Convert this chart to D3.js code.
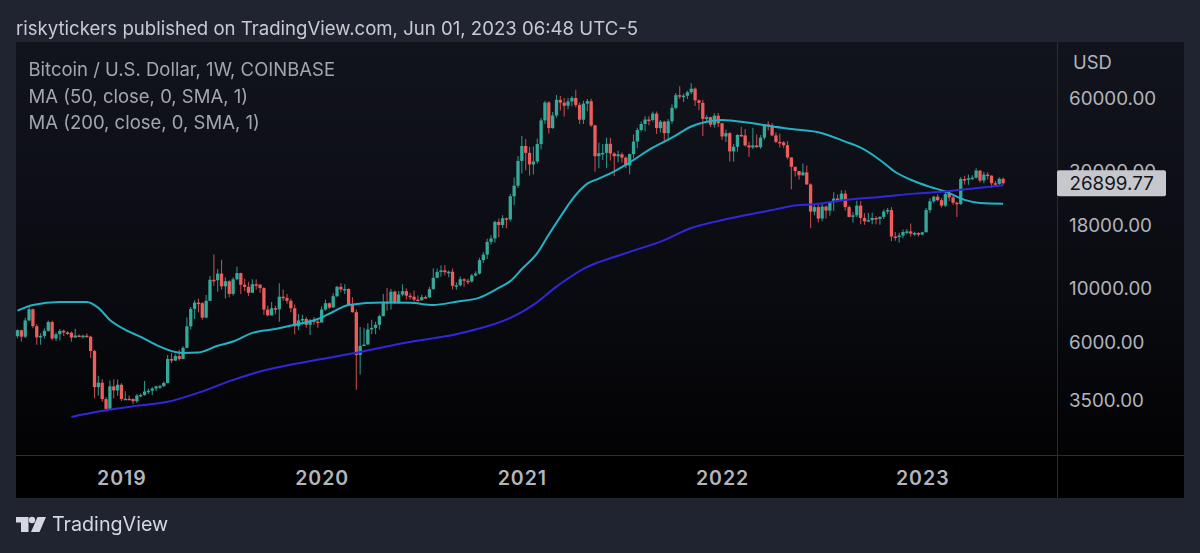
<!DOCTYPE html>
<html>
<head>
<meta charset="utf-8">
<title>BTCUSD weekly</title>
<script src="https://cdn.jsdelivr.net/npm/d3@7"></script>
<style>
  html, body { margin: 0; padding: 0; background: #1f2430; }
  svg { display: block; font-family: Inter, "Noto Sans", sans-serif; }
</style>
</head>
<body>
<svg id="chart" width="1200" height="553"></svg>
<script>
// weekly candles, first one is the week of 2018-07-02. each open is the close before it
const firstWeek = "2018-07-02";
const firstOpen = 6380;
const closes = [
  6750,6350,7400,8220,7010,6310,6400,6710,7290,6240,
  6500,6710,6610,6590,6300,6420,6400,6410,6350,5550,
  3950,4120,3530,3220,3980,3830,4040,3530,3540,3530,
  3460,3650,3670,3790,3820,3900,3980,3990,4110,5150,
  5070,5290,5150,5720,7000,8250,8750,8700,7600,8900,
  10850,10800,11500,10200,10700,9500,10900,11550,10350,10150,
  9600,10400,10370,10030,8200,7760,8300,8220,9250,9150,
  8900,8300,7000,7400,7500,7100,7400,7320,7250,8200,
  8700,8350,9300,10150,9900,9950,8550,8000,5350,5830,
  5900,6800,6900,7100,7700,8800,8700,9700,8700,9440,
  9750,9340,9250,9000,8950,9220,9200,9930,11050,11680,
  11850,11650,11700,10250,10300,10900,10750,10680,11300,11500,
  13050,13750,15500,16000,18700,18150,19350,19150,23800,26300,
  33200,38200,35800,32100,33000,38900,48600,57500,45200,50900,
  59000,57400,55800,58100,60000,56200,48900,56900,58200,46400,
  34700,35700,35800,39000,35600,34700,35300,34250,31800,35400,
  39800,44400,47000,49000,48800,51800,45200,48000,43100,48200,
  54700,61600,60900,61300,63300,65500,58700,57300,49300,50100,
  46700,50800,47300,41800,43100,36300,37900,42400,42200,38400,
  37700,38400,37800,41300,46800,46400,42200,39700,39500,38500,
  34300,31400,30200,29000,29800,26600,20600,21500,19300,21600,
  20800,22500,23300,22900,24400,21500,19600,19900,21800,19400,
  18800,19000,19400,19250,19600,20600,20900,16300,16280,16450,
  17000,17100,16750,16840,16600,16950,20900,22700,23700,22950,
  21800,24300,23550,22400,22150,28000,27950,28200,28350,30300,
  27600,29200,28900,26900,26750,28050,26899.77
];
const highs = [
  6800,6780,7590,8480,8280,7150,6560,6880,7400,7400,
  6610,6820,6790,6680,6670,6840,6480,6460,6550,6400,
  5620,4400,4250,3600,4200,4250,4240,4100,3800,3650,
  3560,3700,3720,4190,3900,3950,4000,4030,4170,5350,
  5450,5380,5620,5800,7600,8400,8950,9100,8800,9400,
  11250,13750,12000,13100,11100,10800,11100,12300,11600,10950,
  10650,10900,10900,10350,10100,8500,8800,8500,10500,9900,
  9500,9100,8600,7850,7800,7650,7500,7650,7450,8450,
  9000,8750,9550,10250,10500,10400,10000,9200,8200,6950,
  6900,7200,7450,7300,7800,9500,10050,9950,9800,9750,
  10400,10000,9600,9800,9350,9450,9350,10150,12100,12050,
  12400,12480,11850,12050,10600,11200,11000,10950,11450,11750,
  13350,14100,15950,16500,18900,19300,19900,19500,24300,28400,
  34800,41950,40800,37900,38000,40950,49700,58400,58350,52600,
  61700,61200,60000,60000,61200,64900,57500,58500,59500,59600,
  46700,39400,38900,41300,41300,36000,36500,35900,34600,35500,
  42600,45300,48100,50500,50500,52900,52900,48800,48400,49200,
  56600,62900,67000,62500,64300,69000,66300,59200,59000,51000,
  50300,52000,52100,47500,44500,43500,38900,42700,45800,44800,
  39800,45400,42600,42300,47000,48200,47400,43400,42900,40000,
  40000,34300,31400,30200,32400,31800,26900,21900,22000,22400,
  21800,22700,24700,24200,25200,25200,21800,20500,22800,22700,
  20300,20400,20400,19700,19700,21000,21300,21500,17000,16900,
  17400,17500,18400,17050,16950,17050,21300,23300,23900,24250,
  23400,25250,25100,23900,22600,28500,28900,29200,29000,31000,
  30500,30000,29850,29000,27500,28450,28400
];
const lows = [
  6250,6070,6270,7350,6880,5880,5880,6240,6650,6120,
  6100,6120,6390,6450,6060,6300,6350,6250,6300,5200,
  3560,3650,3440,3130,3220,3560,3640,3470,3510,3510,
  3370,3400,3590,3640,3700,3670,3800,3880,3960,4090,
  4950,5050,5070,5130,5700,6800,7500,8000,7450,7550,
  8950,10250,9700,9900,9100,9200,9350,10800,9500,9750,
  9320,9580,9900,9600,7800,7700,7750,7850,7300,8900,
  8650,8000,6500,6750,7100,6900,6450,7100,6900,7650,
  8100,8250,8500,9200,9650,9500,8450,7950,3850,4450,
  5800,5900,6500,6500,6800,7700,8100,8200,8650,8650,
  9300,9000,9000,8850,8900,8900,9050,9150,9900,11000,
  11150,11300,11100,9900,9880,10200,10150,10400,10550,11200,
  11400,12700,13200,15100,15400,16200,17650,17600,18800,21900,
  25700,29500,30400,28900,29200,32300,37000,47000,43000,44950,
  49800,53300,50400,54000,55500,55000,47000,46950,53000,45700,
  30000,31000,33500,31000,33350,28800,32700,32700,31000,29300,
  34000,37400,43800,43900,46400,48000,42800,43400,39600,40800,
  47100,53900,59500,57800,59500,62300,55600,53500,42000,47400,
  45600,45500,45700,40500,39700,33000,32900,36200,41700,38000,
  34400,37100,37600,37200,40500,44200,41900,39200,37700,37400,
  33700,25400,28700,27900,28900,26500,17600,19900,18600,18800,
  19300,19800,20700,22500,22700,20800,19500,18600,19600,18300,
  18200,18800,18300,18300,18200,19200,20100,15600,15650,15400,
  16050,16650,16300,16400,16300,16500,17000,20400,22300,22700,
  21400,21500,22700,21950,19600,21900,26600,26500,27800,28100,
  27100,26900,27900,25800,26100,26300,26500
];

// moving averages, week = index into the candles
const ma50Weeks = [0,4,11,18,21,24,28,32,36,41,43,47,52,56,61,67,72,78,82,86,95,102,108,114,120,125,128,131,135,138,141,144,148,151,154,158,165,170,175,179,183,190,196,201,209,215,219,224,228,232,237,241,246,250,256];
const ma50Values = [8110,8560,8800,8800,8330,7430,6770,6340,5880,5500,5450,5470,5830,6070,6580,6830,7100,7500,8030,8560,8750,8730,8560,8830,9170,10050,10710,12000,13950,16600,19600,23000,26800,28100,29500,32000,37600,41300,45900,48000,48800,47500,45900,44800,43100,39800,37600,33500,29900,27800,26000,24900,23000,22350,22200];
const ma200Weeks = [14,21,30,39,47,56,63,73,82,88,99,117,128,134,140,148,151,159,168,175,181,189,196,201,207,215,224,233,241,250,256];
const ma200Values = [2985,3140,3300,3440,3750,4230,4580,4950,5250,5460,5930,6670,7580,8560,10170,12250,12800,14100,15760,17650,18700,19900,20900,21730,22100,23000,23650,24400,24900,25800,26400];

const priceTicks = [60000, 30000, 18000, 10000, 6000, 3500];
const yearTicks = ["2019-01-07", "2020-01-06", "2021-01-04", "2022-01-03", "2023-01-02"];
const yearLabels = ["2019", "2020", "2021", "2022", "2023"];
const lastPrice = 26899.77;

const parseDate = d3.utcParse("%Y-%m-%d");
const start = parseDate(firstWeek);
const dates = closes.map((c, i) => d3.utcWeek.offset(start, i));
const candles = closes.map((c, i) => ({
  date: dates[i],
  open: i == 0 ? firstOpen : closes[i - 1],
  close: c,
  high: highs[i],
  low: lows[i],
}));

const paneLeft = 16, paneRight = 1057, paneTop = 42, timeTop = 456, paneBottom = 498, axisRight = 1184;

const x = d3.scaleUtc()
  .domain([dates[0], dates[dates.length - 1]])
  .range([17.5, 17.5 + 3.85 * (dates.length - 1)]);
const y = d3.scaleLog().domain([60000, 3500]).range([98, 400]);

const svg = d3.select("#chart");

const defs = svg.append("defs");
const grad = defs.append("linearGradient")
  .attr("id", "paneFill").attr("x1", 0).attr("x2", 0).attr("y1", 0).attr("y2", 1);
grad.append("stop").attr("offset", "0%").attr("stop-color", "#12141d");
grad.append("stop").attr("offset", "55%").attr("stop-color", "#0a0b11");
grad.append("stop").attr("offset", "100%").attr("stop-color", "#000000");
// the reference is a soft screenshot
defs.append("filter").attr("id", "soft")
  .attr("x", "-2%").attr("y", "-2%").attr("width", "104%").attr("height", "104%")
  .append("feGaussianBlur").attr("stdDeviation", 0.35);

svg.append("rect").attr("width", 1200).attr("height", 553).attr("fill", "#1f2430");
svg.append("rect")
  .attr("x", paneLeft).attr("y", paneTop)
  .attr("width", axisRight - paneLeft).attr("height", paneBottom - paneTop)
  .attr("fill", "url(#paneFill)");
svg.append("rect")
  .attr("x", paneLeft).attr("y", timeTop)
  .attr("width", axisRight - paneLeft).attr("height", paneBottom - timeTop)
  .attr("fill", "#000");

// pane borders
svg.append("line")
  .attr("x1", paneLeft).attr("x2", axisRight).attr("y1", timeTop - 0.5).attr("y2", timeTop - 0.5)
  .attr("stroke", "#2a2c33");
svg.append("line")
  .attr("x1", paneRight + 0.5).attr("x2", paneRight + 0.5).attr("y1", paneTop).attr("y2", paneBottom)
  .attr("stroke", "#2a2c33");

const marks = svg.append("g").attr("filter", "url(#soft)");

// candles
const candle = marks.append("g").selectAll("g")
  .data(candles)
  .enter()
  .append("g")
  .attr("transform", (d) => "translate(" + x(d.date) + ",0)");
candle.append("line")
  .attr("y1", (d) => y(d.high))
  .attr("y2", (d) => y(d.low))
  .attr("stroke", (d) => (d.close >= d.open ? "#2b8f85" : "#c0484c"))
  .attr("stroke-width", 1.1);
candle.append("rect")
  .attr("x", -1.65)
  .attr("width", 3.3)
  .attr("y", (d) => y(Math.max(d.open, d.close)))
  .attr("height", (d) => Math.max(1.5, Math.abs(y(d.open) - y(d.close))))
  .attr("fill", (d) => (d.close >= d.open ? "#36a899" : "#ee5c5c"));

// moving averages
const maLine = d3.line()
  .x((d) => x(dates[d[0]]))
  .y((d) => y(d[1]))
  .curve(d3.curveMonotoneX);
marks.append("path")
  .attr("d", maLine(d3.zip(ma50Weeks, ma50Values)))
  .attr("fill", "none").attr("stroke", "#22b2c4").attr("stroke-width", 2);
marks.append("path")
  .attr("d", maLine(d3.zip(ma200Weeks, ma200Values)))
  .attr("fill", "none").attr("stroke", "#3328dc").attr("stroke-width", 2);

// price axis
const yAxis = svg.append("g")
  .attr("transform", "translate(" + paneRight + ",0)")
  .call(d3.axisRight(y).tickValues(priceTicks).tickSize(0).tickFormat(d3.format(".2f")));
yAxis.select(".domain").remove();
yAxis.selectAll("text")
  .attr("x", 12)
  .attr("font-family", "Inter, sans-serif")
  .attr("font-size", 18.8)
  .attr("fill", "#b2b5bc");

svg.append("text")
  .attr("x", 1073).attr("y", 69)
  .attr("font-size", 18.4).attr("fill", "#b2b5bc")
  .text("USD");

// last price tag
svg.append("rect")
  .attr("x", paneRight).attr("y", y(lastPrice) - 13)
  .attr("width", 109).attr("height", 26).attr("rx", 2)
  .attr("fill", "#c6c8cd");
svg.append("text")
  .attr("x", 1069.5).attr("y", y(lastPrice) + 6.5)
  .attr("font-size", 18.8).attr("fill", "#14151a")
  .text(d3.format(".2f")(lastPrice));

// time axis
const xAxis = svg.append("g")
  .attr("transform", "translate(0," + timeTop + ")")
  .call(
    d3.axisBottom(x)
      .tickValues(yearTicks.map(parseDate))
      .tickSize(0)
      .tickFormat((d, i) => yearLabels[i])
  );
xAxis.select(".domain").remove();
xAxis.selectAll("text")
  .attr("y", 15)
  .attr("font-family", "Inter, sans-serif")
  .attr("font-size", 19.5)
  .attr("font-weight", 600)
  .attr("letter-spacing", 1)
  .attr("fill", "#b4b6bb");

// header and legend
svg.append("text")
  .attr("x", 16).attr("y", 34.5)
  .attr("font-size", 18.6).attr("fill", "#c8cad1")
  .text("riskytickers published on TradingView.com, Jun 01, 2023 06:48 UTC-5");

const legendLines = ["Bitcoin / U.S. Dollar, 1W, COINBASE", "MA (50, close, 0, SMA, 1)", "MA (200, close, 0, SMA, 1)"];
svg.append("g").selectAll("text")
  .data(legendLines)
  .enter()
  .append("text")
  .attr("x", 28.5)
  .attr("y", (d, i) => 76 + i * 26.5)
  .attr("font-size", 18.5)
  .attr("fill", "#a3a6ad")
  .text((d) => d);

// logo
const logo = svg.append("g").attr("fill", "#d5d8e0");
logo.append("path").attr("d", "M16 517H28.5V532H21V522.5H16Z");
logo.append("circle").attr("cx", 32).attr("cy", 520).attr("r", 3.2);
logo.append("path").attr("d", "M37.5 517H46L39.5 532H31Z");
svg.append("text")
  .attr("x", 52).attr("y", 531)
  .attr("font-size", 19.7).attr("fill", "#d5d8e0")
  .text("TradingView");
</script>
</body>
</html>
